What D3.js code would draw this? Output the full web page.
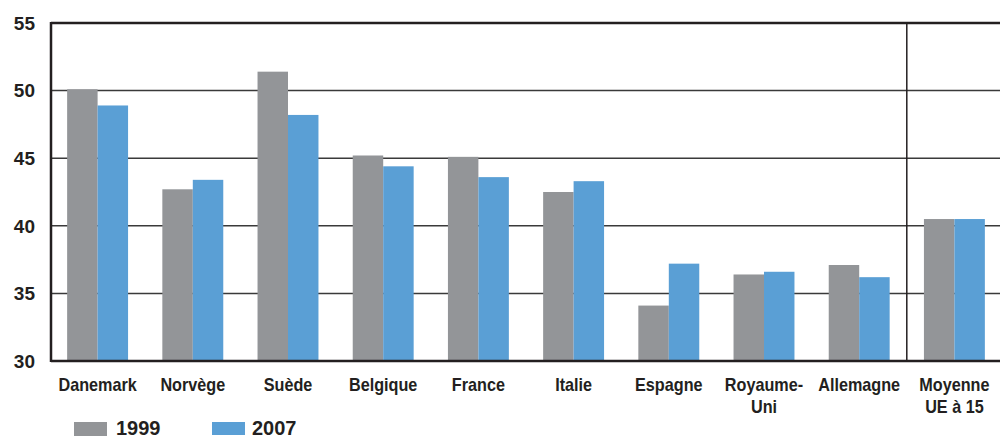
<!DOCTYPE html>
<html>
<head>
<meta charset="utf-8">
<script src="https://cdn.jsdelivr.net/npm/d3@7"></script>
<style>
  html, body { margin: 0; padding: 0; background: #fff; }
  svg { display: block; }
  text { font-family: "Liberation Sans", Arial, sans-serif; font-weight: bold; fill: #231f20; }
</style>
</head>
<body>
<svg id="chart" width="1000" height="438"></svg>
<script>
// Countries (label lines) and values for the two years
const categories = [
  ["Danemark"], ["Norvège"], ["Suède"], ["Belgique"], ["France"],
  ["Italie"], ["Espagne"], ["Royaume-", "Uni"], ["Allemagne"], ["Moyenne", "UE à 15"]
];
const values1999 = [50.1, 42.7, 51.4, 45.2, 45.1, 42.5, 34.1, 36.4, 37.1, 40.5];
const values2007 = [48.9, 43.4, 48.2, 44.4, 43.6, 43.3, 37.2, 36.6, 36.2, 40.5];
const seriesNames = ["1999", "2007"];
const yTicks = [30, 35, 40, 45, 50, 55];

const colors = ["#939598", "#5a9fd5"];

const svg = d3.select("#chart");
const plotLeft = 51, plotRight = 1000, plotTop = 23, plotBottom = 361;

const keys = categories.map((c, i) => i);
const x = d3.scaleBand().domain(keys).range([plotLeft - 1, 1002]).paddingInner(0.36).paddingOuter(0.18);
const xs = d3.scaleBand().domain([0, 1]).range([0, x.bandwidth()]);
const y = d3.scaleLinear().domain([30, 55]).range([plotBottom, plotTop]);

// horizontal gridlines
svg.append("g").selectAll("line").data(yTicks.filter(t => t > 30 && t < 55)).join("line")
  .attr("x1", plotLeft).attr("x2", plotRight)
  .attr("y1", d => y(d)).attr("y2", d => y(d))
  .attr("stroke", "#3a3a3a").attr("stroke-width", 1.5);

// top border
svg.append("line").attr("x1", plotLeft).attr("x2", plotRight)
  .attr("y1", y(55)).attr("y2", y(55))
  .attr("stroke", "#231f20").attr("stroke-width", 2.5);

// separator before the EU average
const sepX = (x(8) + x.bandwidth() + x(9)) / 2;
svg.append("line").attr("x1", sepX).attr("x2", sepX)
  .attr("y1", y(55)).attr("y2", y(30))
  .attr("stroke", "#231f20").attr("stroke-width", 1.5);

// bars
const series = [values1999, values2007];
series.forEach((vals, s) => {
  svg.append("g").selectAll("rect").data(vals).join("rect")
    .attr("x", (d, i) => x(i) + xs(s))
    .attr("width", xs.bandwidth())
    .attr("y", d => y(d))
    .attr("height", d => y(30) - y(d))
    .attr("fill", colors[s]);
});

// left axis line and baseline
svg.append("line").attr("x1", plotLeft).attr("x2", plotLeft)
  .attr("y1", y(55) - 1).attr("y2", y(30) + 1)
  .attr("stroke", "#231f20").attr("stroke-width", 2.5);
svg.append("line").attr("x1", plotLeft).attr("x2", plotRight)
  .attr("y1", y(30)).attr("y2", y(30))
  .attr("stroke", "#231f20").attr("stroke-width", 2.5);

// y tick labels
svg.append("g").selectAll("text").data(yTicks).join("text")
  .attr("x", 35).attr("y", d => y(d))
  .attr("dy", "0.36em")
  .attr("text-anchor", "end")
  .style("font-size", "19px")
  .text(d => d);

// category labels (slightly condensed bold)
const lab = svg.append("g").selectAll("text").data(categories).join("text")
  .attr("text-anchor", "middle")
  .style("font-size", "18px")
  .attr("transform", (d, i) => `translate(${x(i) + x.bandwidth() / 2},391) scale(0.9,1)`);
lab.selectAll("tspan").data(d => d).join("tspan")
  .attr("x", 0).attr("y", (d, j) => j * 22)
  .text(d => d);

// legend
const legendX = [74, 212];
const legendText = [116, 252];
seriesNames.forEach((name, s) => {
  svg.append("rect").attr("x", legendX[s]).attr("y", 422)
    .attr("width", 33).attr("height", 14 - s).attr("fill", colors[s]);
  svg.append("text").attr("x", legendText[s]).attr("y", 435)
    .style("font-size", "20px").text(name);
});
</script>
</body>
</html>
